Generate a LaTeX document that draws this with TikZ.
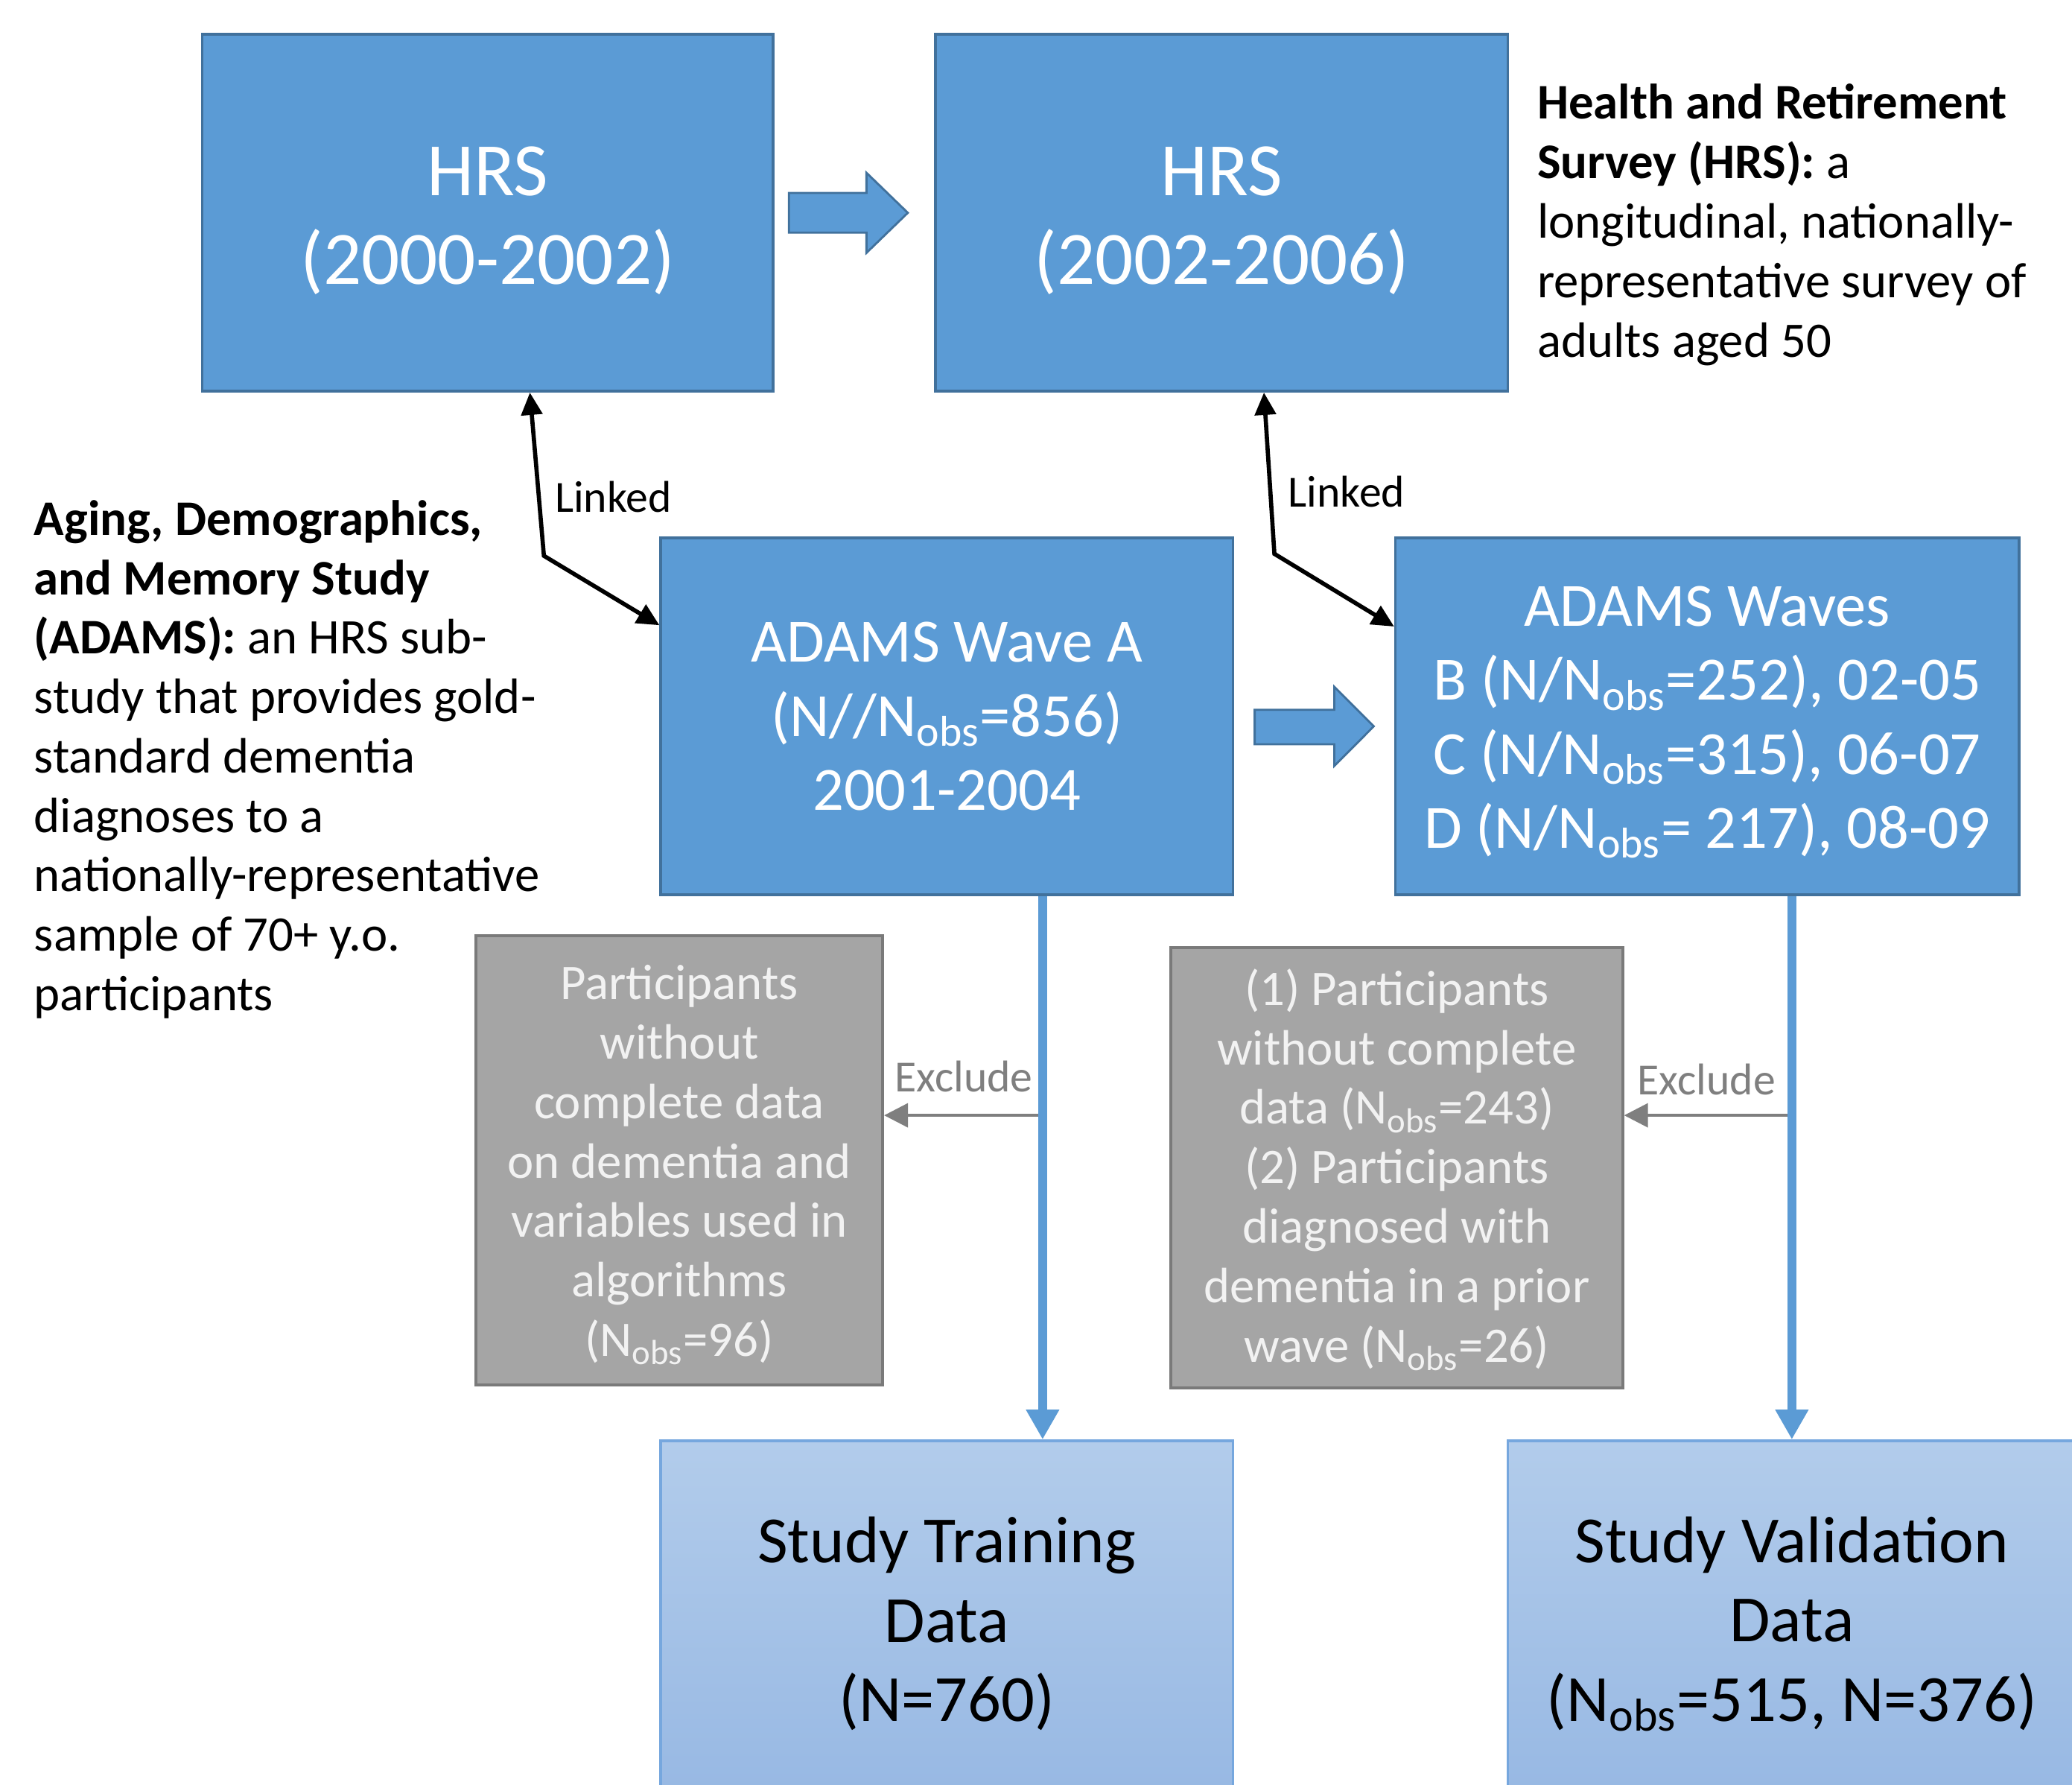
\documentclass[tikz,border=0pt]{standalone}
\usepackage{fontspec}
\setmainfont{Carlito}
\usetikzlibrary{arrows.meta,calc}
\def\pxu{0.017742cm}
\definecolor{boxblue}{HTML}{5B9BD5}
\definecolor{boxedge}{HTML}{41719C}
\definecolor{greyfill}{HTML}{A5A5A5}
\definecolor{greyedge}{HTML}{7A7A7A}
\definecolor{greytext}{HTML}{F2F2F2}
\definecolor{linegrey}{HTML}{7F7F7F}
\definecolor{lighttop}{HTML}{B2CCEB}
\definecolor{lightbot}{HTML}{97B8E3}
\definecolor{lightedge}{HTML}{76A7DE}
\tikzset{
  wh/.style 2 args={minimum width={#1*\pxu}, minimum height={#2*\pxu}},
  bluebox/.style={draw=boxedge, fill=boxblue, line width=1pt, inner sep=0pt},
  greybox/.style={draw=greyedge, fill=greyfill, line width=1.1pt, inner sep=0pt},
  resultbox/.style={draw=lightedge, top color=lighttop, bottom color=lightbot, line width=1pt, inner sep=0pt},
  boxtext/.style={align=center, inner sep=0pt},
  bigwhite/.style={boxtext, text=white, font=\fontsize{28.8}{34}\selectfont},
  midwhite/.style={boxtext, text=white, font=\fontsize{23.5}{28.3}\selectfont},
  greytxt/.style={boxtext, text=greytext, font=\fontsize{19}{22.7}\selectfont},
  resulttxt/.style={boxtext, text=black, font=\fontsize{25.2}{30.3}\selectfont},
  desc/.style={align=left, inner sep=0pt, font=\fontsize{19}{22.7}\selectfont, text=black},
  blockarrow/.style={fill=boxblue, draw=boxedge, line width=0.8pt},
  linked/.style={draw=black, line width=1.6pt, {Triangle[length=0.3cm,width=0.28cm]}-{Triangle[length=0.3cm,width=0.28cm]}},
  flow/.style={draw=boxblue, line width=3.4pt, -{Triangle[length=0.4cm,width=0.42cm]}},
  excl/.style={draw=linegrey, line width=1.1pt, -{Triangle[length=0.32cm,width=0.32cm]}},
  linklabel/.style={inner sep=0pt, font=\fontsize{17}{19}\selectfont, text=black},
  exlabel/.style={inner sep=0pt, font=\fontsize{17}{19}\selectfont, text=linegrey},
}
\begin{document}
\begin{tikzpicture}[x=0.017742cm, y=-0.017742cm]
\clip (0,0) rectangle (1568,1350);
\fill[white] (0,0) rectangle (1568,1350);

% boxes
\node[bluebox, wh={432}{270}] (hrsA) at (369,161) {};
\node[bluebox, wh={433}{270}] (hrsB) at (924.5,161) {};
\node[bluebox, wh={433}{270}] (adA) at (716.5,542) {};
\node[bluebox, wh={472}{270}] (adB) at (1292,542) {};
\node[greybox, wh={308}{340}] (ex1) at (514,878) {};
\node[greybox, wh={342}{333}] (ex2) at (1057,883.5) {};
\node[resultbox, wh={433}{272}] (train) at (716.5,1226) {};
\node[resultbox, wh={430}{272}] (valid) at (1356,1226) {};

% box texts
\node[bigwhite] (hrsAt) at ($(hrsA.center)+(0,6)$) {HRS\\(2000-2002)};
\node[bigwhite] (hrsBt) at ($(hrsB.center)+(0,6)$) {HRS\\(2002-2006)};
\node[midwhite] (adAt) at ($(adA.center)+(0,0)$) {ADAMS Wave A\\(N//N\textsubscript{obs}=856)\\2001-2004};
\node[midwhite] (adBt) at ($(adB.center)+(0,4.5)$) {ADAMS Waves\\B (N/N\textsubscript{obs}=252), 02-05\\C (N/N\textsubscript{obs}=315), 06-07\\D (N/N\textsubscript{obs}= 217), 08-09};
\node[greytxt] (ex1t) at ($(ex1.center)+(0,3.5)$) {Participants\\without\\complete data\\on dementia and\\variables used in\\algorithms\\(N\textsubscript{obs}=96)};
\node[greytxt] (ex2t) at ($(ex2.center)+(0,1.5)$) {(1) Participants\\without complete\\data (N\textsubscript{obs}=243)\\(2) Participants\\diagnosed with\\dementia in a prior\\wave (N\textsubscript{obs}=26)};
\node[resulttxt] (traint) at ($(train.center)+(0,2.5)$) {Study Training\\Data\\(N=760)};
\node[resulttxt] (validt) at ($(valid.center)+(0,2.5)$) {Study Validation\\Data\\(N\textsubscript{obs}=515, N=376)};

% descriptions (base anchor = baseline of last line)
\node[desc, anchor=base west] (hrsdesc) at (1163,270) {\textbf{Health and Retirement}\\\textbf{Survey (HRS):} a\\longitudinal, nationally-\\representative survey of\\adults aged 50};
\node[desc, anchor=base west] (adamsdesc) at (25.5,764.5) {\textbf{Aging, Demographics,}\\\textbf{and Memory Study}\\\textbf{(ADAMS):} an HRS sub-\\study that provides gold-\\standard dementia\\diagnoses to a\\nationally-representative\\sample of 70+ y.o.\\participants};

% block arrows
\draw[blockarrow] (597,146) -- (655.7,146) -- (655.7,130.7) -- (687,161) -- (655.7,191.3) -- (655.7,176) -- (597,176) -- cycle;
\draw[blockarrow] (949.5,537) -- (1009.7,537) -- (1009.7,519.5) -- (1039.6,549.5) -- (1009.7,579.5) -- (1009.7,563) -- (949.5,563) -- cycle;

% linked connectors
\draw[linked] ($(hrsA.south)+(32,0)$) -- (411.6,420.5) -- ($(adA.west)+(0,-69)$);
\draw[linked] ($(hrsB.south)+(32,0)$) -- (964.4,419) -- ($(adB.west)+(0,-68)$);
\node[linklabel, anchor=west] (lk1) at (419.5,376) {Linked};
\node[linklabel, anchor=west] (lk2) at (974.5,372) {Linked};

% exclusions
\coordinate (j1) at (789,843.8);
\coordinate (j2) at (1356,843.8);
\draw[excl] (j1) -- (j1 -| ex1.east);
\draw[excl] (j2) -- (j2 -| ex2.east);
\node[exlabel, anchor=base east] (exl1) at (782,826) {Exclude};
\node[exlabel, anchor=base east] (exl2) at (1344,828.5) {Exclude};

% main flow
\draw[flow] ($(adA.south)+(72.5,0)$) -- ($(train.north)+(72.5,0)$);
\draw[flow] (adB.south -| valid.north) -- (valid.north);
\end{tikzpicture}
\end{document}
